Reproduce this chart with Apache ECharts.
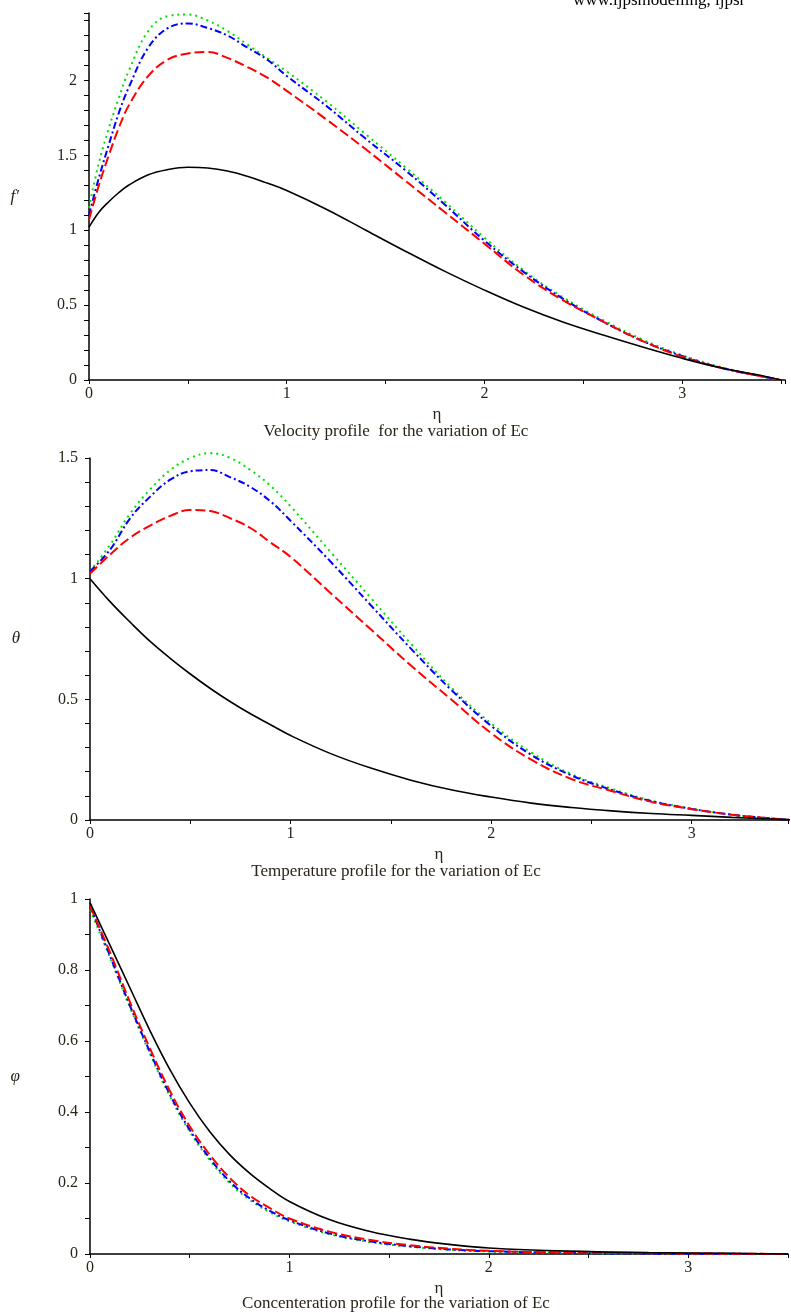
<!DOCTYPE html>
<html>
<head>
    <meta charset="utf-8">
    <style>
        html, body {
            height: 100%;
            background: #fff;
        }

        * {
            margin: 0;
            padding: 0;
        }

        #container {
            width: 791px;
            height: 1313px;
        }
    </style>
</head>
<body>
<div id="container"></div>
<script type="text/javascript" src="https://cdn.jsdelivr.net/npm/echarts@6/dist/echarts.min.js"></script>
<script type="text/javascript">
    // velocity profile f'
    let eta1 = [0, 0.05, 0.1, 0.15, 0.2, 0.3, 0.4, 0.5, 0.6, 0.7, 0.8, 0.9, 1.0, 1.2, 1.4, 1.6, 1.8, 2.0, 2.2, 2.4, 2.6, 2.8, 3.0, 3.2, 3.4, 3.5];
    let velBlack = [1.02, 1.12, 1.19, 1.25, 1.30, 1.37, 1.405, 1.42, 1.415, 1.395, 1.36, 1.315, 1.265, 1.14, 1.0, 0.86, 0.725, 0.6, 0.485, 0.385, 0.30, 0.22, 0.145, 0.08, 0.03, 0];
    let velRed = [1.07, 1.30, 1.50, 1.68, 1.83, 2.03, 2.14, 2.18, 2.19, 2.15, 2.09, 2.02, 1.93, 1.74, 1.54, 1.33, 1.12, 0.91, 0.70, 0.53, 0.39, 0.26, 0.155, 0.08, 0.025, 0];
    let velBlue = [1.10, 1.35, 1.57, 1.78, 1.95, 2.22, 2.35, 2.38, 2.35, 2.30, 2.22, 2.14, 2.03, 1.83, 1.61, 1.40, 1.17, 0.93, 0.72, 0.54, 0.39, 0.26, 0.16, 0.08, 0.025, 0];
    let velGreen = [1.15, 1.45, 1.68, 1.88, 2.06, 2.33, 2.43, 2.44, 2.40, 2.33, 2.24, 2.15, 2.06, 1.86, 1.64, 1.42, 1.19, 0.95, 0.73, 0.55, 0.40, 0.27, 0.165, 0.085, 0.025, 0];

    // temperature profile theta
    let eta2 = [0, 0.1, 0.2, 0.3, 0.4, 0.5, 0.6, 0.7, 0.8, 0.9, 1.0, 1.2, 1.4, 1.6, 1.8, 2.0, 2.2, 2.4, 2.6, 2.8, 3.0, 3.2, 3.4, 3.5];
    let tmpBlack = [1.0, 0.905, 0.82, 0.74, 0.67, 0.605, 0.545, 0.49, 0.44, 0.395, 0.35, 0.275, 0.215, 0.165, 0.125, 0.095, 0.07, 0.052, 0.038, 0.027, 0.019, 0.011, 0.004, 0];
    let tmpRed = [1.02, 1.10, 1.17, 1.22, 1.26, 1.285, 1.28, 1.25, 1.21, 1.15, 1.09, 0.94, 0.79, 0.64, 0.50, 0.36, 0.25, 0.17, 0.12, 0.075, 0.045, 0.022, 0.006, 0];
    let tmpBlue = [1.03, 1.12, 1.25, 1.34, 1.41, 1.445, 1.45, 1.42, 1.38, 1.32, 1.24, 1.07, 0.89, 0.71, 0.54, 0.39, 0.27, 0.185, 0.125, 0.078, 0.046, 0.022, 0.006, 0];
    let tmpGreen = [1.03, 1.14, 1.27, 1.37, 1.45, 1.50, 1.52, 1.50, 1.45, 1.385, 1.30, 1.11, 0.92, 0.73, 0.55, 0.40, 0.28, 0.19, 0.13, 0.08, 0.047, 0.022, 0.006, 0];

    // concentration profile phi
    let eta3 = [0, 0.1, 0.2, 0.3, 0.4, 0.5, 0.6, 0.7, 0.8, 0.9, 1.0, 1.2, 1.4, 1.6, 1.8, 2.0, 2.4, 2.8, 3.2, 3.5];
    let conBlack = [0.99, 0.87, 0.75, 0.63, 0.52, 0.425, 0.345, 0.28, 0.228, 0.185, 0.148, 0.097, 0.064, 0.042, 0.027, 0.017, 0.008, 0.004, 0.002, 0];
    let conRed = [0.98, 0.85, 0.71, 0.58, 0.46, 0.36, 0.28, 0.215, 0.165, 0.13, 0.10, 0.063, 0.04, 0.025, 0.015, 0.009, 0.004, 0.002, 0.001, 0];
    let conBlue = [0.98, 0.84, 0.70, 0.57, 0.45, 0.35, 0.27, 0.205, 0.157, 0.122, 0.095, 0.058, 0.036, 0.022, 0.013, 0.008, 0.003, 0.001, 0.0005, 0];
    let conGreen = [0.97, 0.835, 0.695, 0.565, 0.445, 0.345, 0.265, 0.2, 0.153, 0.118, 0.092, 0.056, 0.034, 0.021, 0.012, 0.007, 0.003, 0.001, 0.0005, 0];

    let captions = [
        'Velocity profile  for the variation of Ec',
        'Temperature profile for the variation of Ec',
        'Concenteration profile for the variation of Ec'
    ];

    let dom = document.getElementById("container");
    let myChart = echarts.init(dom);

    let serif = '"Liberation Serif", "DejaVu Serif", serif';
    let textColor = '#2b2418';

    function pairs(xs, ys) {
        return xs.map(function (x, i) {
            return [x, ys[i]];
        });
    }

    let styles = [
        {color: '#000000', type: 'solid', width: 1.6},
        {color: '#ff0000', type: [10, 4], width: 2},
        {color: '#0000ff', type: [7, 3, 2, 3], width: 2},
        {color: '#00e000', type: [2, 4], width: 2}
    ];

    function makeSeries(idx, xs, list) {
        return list.map(function (ys, k) {
            return {
                type: 'line',
                xAxisIndex: idx,
                yAxisIndex: idx,
                data: pairs(xs, ys),
                showSymbol: false,
                smooth: 0.4,
                clip: false,
                z: 10 - k,
                lineStyle: styles[k]
            };
        });
    }

    function xAxisFor(idx, max) {
        return {
            type: 'value',
            gridIndex: idx,
            min: 0,
            max: max,
            interval: 0.5,
            name: 'η',
            nameLocation: 'middle',
            nameGap: 26,
            nameTextStyle: {fontFamily: serif, fontSize: 17, color: textColor},
            splitLine: {show: false},
            axisLine: {onZero: false, lineStyle: {color: '#000', width: 1.5}},
            axisTick: {length: 4, lineStyle: {color: '#000'}},
            axisLabel: {
                margin: 6,
                fontFamily: serif,
                fontSize: 16,
                color: textColor,
                formatter: function (v) {
                    return Math.abs(v - Math.round(v)) < 1e-6 ? String(Math.round(v)) : '';
                }
            }
        };
    }

    function yAxisFor(idx, max, interval, minorSplit, labelStep, name) {
        return {
            type: 'value',
            gridIndex: idx,
            min: 0,
            max: max,
            interval: interval,
            name: name,
            nameLocation: 'middle',
            nameRotate: 0,
            nameGap: 70,
            nameTextStyle: {fontFamily: serif, fontSize: 17, fontStyle: 'italic', color: textColor},
            splitLine: {show: false},
            axisLine: {onZero: false, lineStyle: {color: '#000', width: 1.5}},
            axisTick: {length: 5, lineStyle: {color: '#000'}},
            minorTick: {show: true, splitNumber: minorSplit, length: 5, lineStyle: {color: '#000'}},
            minorSplitLine: {show: false},
            axisLabel: {
                margin: 12,
                fontFamily: serif,
                fontSize: 16,
                color: textColor,
                formatter: function (v) {
                    let k = v / labelStep;
                    if (Math.abs(k - Math.round(k)) > 1e-6) return '';
                    return String(Math.round(v * 10) / 10);
                }
            }
        };
    }

    let option = {
        animation: false,
        backgroundColor: '#ffffff',
        grid: [
            {left: 89, top: 13, width: 696, height: 367},
            {left: 90, top: 458, width: 700, height: 362},
            {left: 90, top: 899, width: 700, height: 355}
        ],
        xAxis: [
            xAxisFor(0, 3.52),
            xAxisFor(1, 3.48),
            xAxisFor(2, 3.5)
        ],
        yAxis: [
            yAxisFor(0, 2.45, 0.5, 5, 0.5, "f′"),
            yAxisFor(1, 1.5, 0.5, 5, 0.5, 'θ'),
            yAxisFor(2, 1, 0.2, 2, 0.2, 'φ')
        ],
        graphic: [
            {type: 'text', left: 573, top: -8, style: {text: 'www.ijpsmodelling, ijpsr', font: '17px ' + serif, fill: '#000'}},
            {type: 'text', x: 396, y: 432, style: {text: captions[0], font: '17px ' + serif, fill: textColor, textAlign: 'center', textVerticalAlign: 'middle'}},
            {type: 'text', x: 396, y: 872, style: {text: captions[1], font: '17px ' + serif, fill: textColor, textAlign: 'center', textVerticalAlign: 'middle'}},
            {type: 'text', x: 396, y: 1304, style: {text: captions[2], font: '17px ' + serif, fill: textColor, textAlign: 'center', textVerticalAlign: 'middle'}}
        ],
        series: [].concat(
            makeSeries(0, eta1, [velBlack, velRed, velBlue, velGreen]),
            makeSeries(1, eta2, [tmpBlack, tmpRed, tmpBlue, tmpGreen]),
            makeSeries(2, eta3, [conBlack, conRed, conBlue, conGreen])
        )
    };

    if (option && typeof option === "object") {
        myChart.setOption(option, true);
    }
</script>
</body>
</html>
